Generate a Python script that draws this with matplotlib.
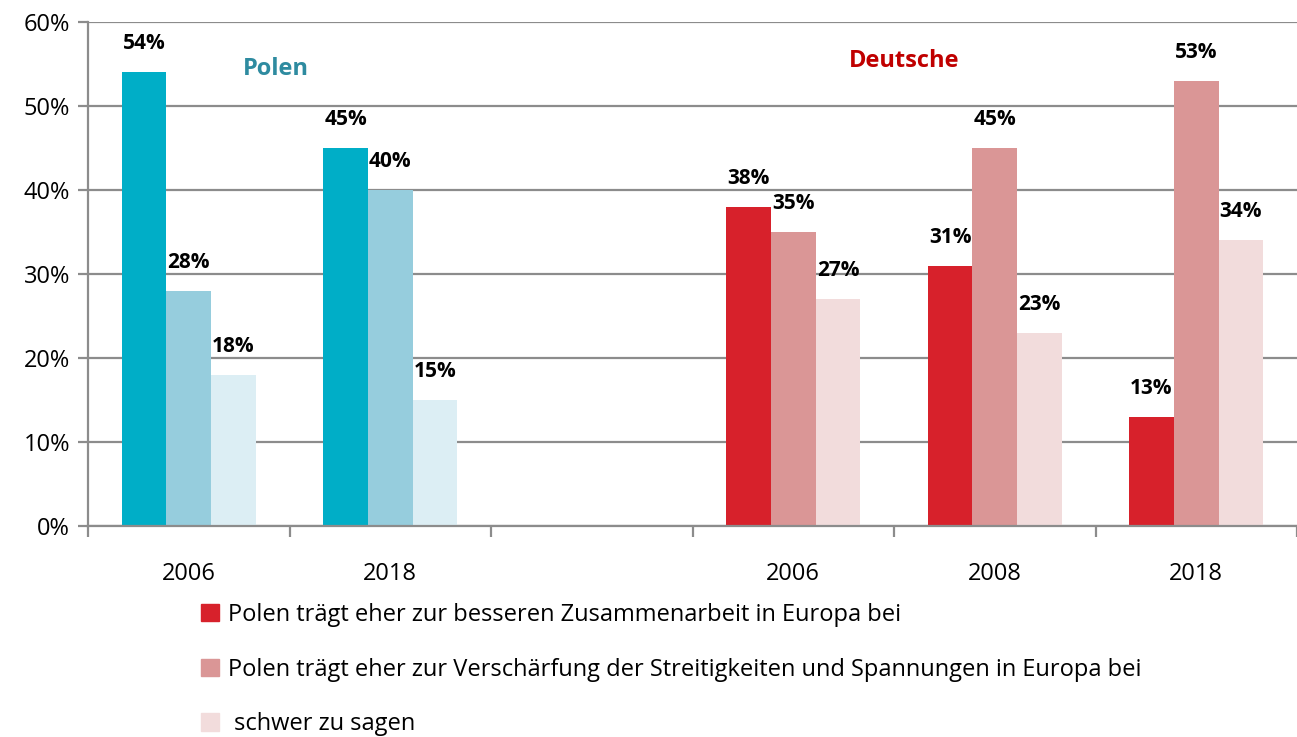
import numpy as np
import matplotlib
matplotlib.use("Agg")
import matplotlib.pyplot as plt
from matplotlib.patches import Patch

plt.rcParams['font.family'] = ['Open Sans', 'DejaVu Sans']

# categories along the x axis (empty slot separates the two groups)
years = ['2006', '2018', '', '2006', '2008', '2018']
better = [54, 45, np.nan, 38, 31, 13]
tension = [28, 40, np.nan, 35, 45, 53]
unsure = [18, 15, np.nan, 27, 23, 34]
group = ['PL', 'PL', '', 'DE', 'DE', 'DE']

legend_labels = [
    'Polen trägt eher zur besseren Zusammenarbeit in Europa bei',
    'Polen trägt eher zur Verschärfung der Streitigkeiten und Spannungen in Europa bei',
    ' schwer zu sagen',
]

colors = {
    'PL': ['#00aec7', '#96cddd', '#dceef4'],
    'DE': ['#d7212b', '#da9696', '#f2dcdc'],
    '': ['w', 'w', 'w'],
}
grey = '#8c8c8c'

fig = plt.figure(figsize=(12.97, 7.37), dpi=100)
ax = fig.add_axes([88 / 1297, 1 - 526 / 737, 1 - 88 / 1297, (526 - 22) / 737])

x = np.arange(len(years))
w = 0.222
series = [better, tension, unsure]
for k, vals in enumerate(series):
    cols = [colors[g][k] for g in group]
    pos = x + (k - 1) * w
    ax.bar(pos, vals, width=w, color=cols, zorder=2)
    for xp, v in zip(pos, vals):
        if np.isnan(v):
            continue
        ax.text(xp, v + 3.4, f'{v:.0f}%', ha='center', va='center',
                fontsize=15, fontweight='bold', color='black')

ax.set_ylim(0, 60)
ax.set_xlim(-0.5, -0.5 + (1297 - 88) / 203.4)
ax.set_yticks(np.arange(0, 61, 10))
ax.set_yticklabels([f'{t}%' for t in range(0, 61, 10)], fontsize=17)
ax.yaxis.grid(True, color=grey, linewidth=1.6, zorder=1)
ax.set_axisbelow(True)
ax.tick_params(axis='y', length=7, width=1.6, color=grey, pad=6)

ax.set_xticks(x)
ax.set_xticklabels(years, fontsize=17)
ax.set_xticks(np.arange(-0.5, 6, 1), minor=True)
ax.tick_params(axis='x', which='major', length=0, pad=26)
ax.tick_params(axis='x', which='minor', length=8, width=1.6, color=grey)

for s in ['top', 'right']:
    ax.spines[s].set_visible(False)
for s in ['left', 'bottom']:
    ax.spines[s].set_color(grey)
    ax.spines[s].set_linewidth(1.6)
    ax.spines[s].set_zorder(4)

ax.text(0.43, 54.4, 'Polen', color='#2e8ba0', fontsize=17, fontweight='bold',
        ha='center', va='center')
ax.text(3.55, 55.3, 'Deutsche', color='#c00000', fontsize=17, fontweight='bold',
        ha='center', va='center')

handles = [Patch(color=c) for c in colors['DE']]
fig.legend(handles, legend_labels, loc='upper left', bbox_to_anchor=(189 / 1297, 1 - 591 / 737),
           frameon=False, fontsize=17, handlelength=0.75, handleheight=0.75,
           handletextpad=0.4, labelspacing=1.3, borderpad=0)

fig.savefig('out.png', dpi=100)
